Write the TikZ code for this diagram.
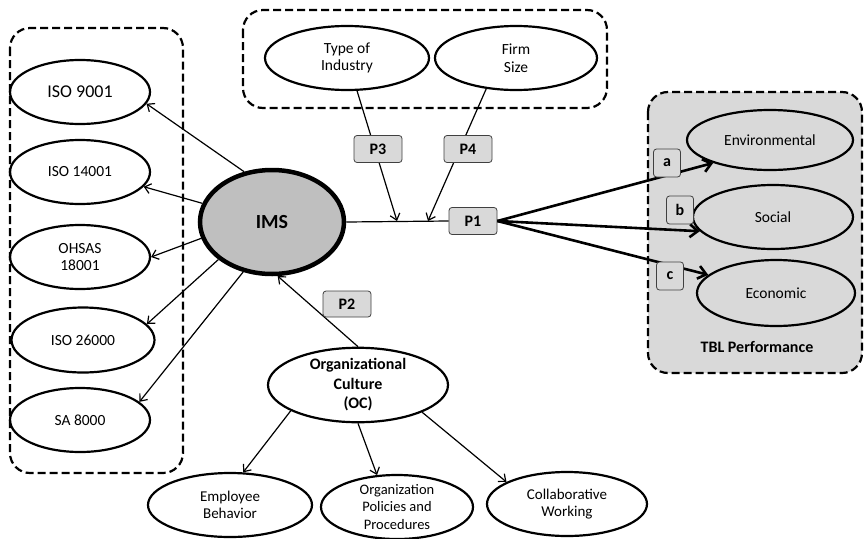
\documentclass[tikz,border=0pt]{standalone}
\usepackage{fontspec}
\setmainfont{Carlito}
\usetikzlibrary{arrows.meta,shapes.geometric}

\begin{document}
\begin{tikzpicture}[x=1pt,y=-1pt,
  oval/.style={draw,ellipse,line width=2.2pt,inner sep=0pt,align=center,font=\fontsize{15.5}{17.5}\selectfont},
  stdoval/.style={oval,minimum width=140pt,minimum height=64pt},
  pbox/.style={draw=black!75,fill=gray!30,rounded corners=3pt,line width=0.8pt,minimum width=48pt,minimum height=27pt,font=\bfseries\fontsize{16}{18}\selectfont},
  lbox/.style={pbox,minimum width=27pt,minimum height=28pt},
  grpbox/.style={line width=2.2pt,dash pattern=on 8pt off 4pt,rounded corners=20pt},
  thinarrow/.style={-{Straight Barb[length=6pt,width=10pt]},line width=1.2pt},
  boldarrow/.style={-{Straight Barb[length=8pt,width=13pt]},line width=2.6pt}]
\useasboundingbox (0,0) rectangle (864,538);
% dashed groups
\draw[grpbox] (10,28) rectangle (183,473);
\draw[grpbox] (243,10) rectangle (607,108);
\draw[grpbox,fill=gray!30] (648,92) rectangle (862,373);
% standards
\node[stdoval,font=\fontsize{18}{20}\selectfont] (iso9) at (80,92) {ISO 9001};
\node[stdoval] (iso14) at (80,172) {ISO 14001};
\node[stdoval] (ohsas) at (80,257) {OHSAS\\18001};
\node[stdoval,minimum width=143pt,minimum height=65pt] (iso26) at (83,340) {ISO 26000};
\node[stdoval] (sa) at (80,420) {SA 8000};
% core
\node[oval,fill=gray!50,line width=4.5pt,minimum width=144pt,minimum height=104pt,font=\bfseries\fontsize{20}{22}\selectfont] (ims) at (272,222) {IMS};
% moderators
\node[oval,minimum width=164pt,minimum height=64pt] (ti) at (347,58) {Type of\\Industry};
\node[oval,minimum width=162pt,minimum height=64pt] (fs) at (516,58) {Firm\\Size};
% TBL
\node[oval,minimum width=166pt,minimum height=60pt] (env) at (770,140) {Environmental};
\node[oval,minimum width=160pt,minimum height=64pt] (soc) at (773,217) {Social};
\node[oval,minimum width=158pt,minimum height=66pt] (eco) at (776,293) {Economic};
\node[font=\bfseries\fontsize{16}{18}\selectfont] (tbl) at (757,347) {TBL Performance};
% culture
\node[oval,minimum width=180pt,minimum height=66pt,font=\bfseries\fontsize{16}{19.5}\selectfont] (oc) at (358,385) {Organizational\\Culture\\(OC)};
\node[oval,minimum width=164pt,minimum height=64pt,font=\fontsize{15}{17.5}\selectfont] (eb) at (230,505) {Employee\\Behavior};
\node[oval,minimum width=152pt,minimum height=64pt,font=\fontsize{14.5}{17.5}\selectfont] (opp) at (397,507) {Organization\\Policies and\\Procedures};
\node[oval,minimum width=160pt,minimum height=64pt,font=\fontsize{15}{17.5}\selectfont] (cw) at (567,504) {Collaborative\\Working};
% IMS to standards
\draw[thinarrow] (ims.119) -- (iso9.-10);
\draw[thinarrow] (ims.165) -- (iso14.-13);
\draw[thinarrow] (ims.-167) -- (ohsas.east);
\draw[thinarrow] (ims.-145) -- (iso26.14);
\draw[thinarrow] (ims.-120) -- (sa.17);
% moderation
\node[pbox] (p1) at (473,221) {P1};
\coordinate (m3) at (397,221);
\coordinate (m4) at (428,221);
\draw[line width=1.2pt] (ims.east) -- (p1.west);
\draw[thinarrow] (ti.-73) -- (m3);
\draw[thinarrow] (fs.-134) -- (m4);
\node[pbox] (p3) at (378,149) {P3};
\node[pbox] (p4) at (468,149) {P4};
% P1 to TBL
\draw[boldarrow] (p1.east) -- (env.-158);
\draw[boldarrow] (p1.east) -- (soc.191);
\draw[boldarrow] (p1.east) -- (eco.165);
\node[lbox] (la) at (667,163) {a};
\node[lbox] (lb) at (680,210) {b};
\node[lbox] (lc) at (670,276) {c};
% culture links
\draw[thinarrow] (oc.north) -- (ims.-84);
\node[pbox,minimum height=26pt] (p2) at (347,304) {P2};
\draw[thinarrow] (oc.201) -- (eb.68);
\draw[thinarrow] (oc.south) -- (opp.122);
\draw[thinarrow] (oc.-23) -- (cw.160);
\end{tikzpicture}
\end{document}
